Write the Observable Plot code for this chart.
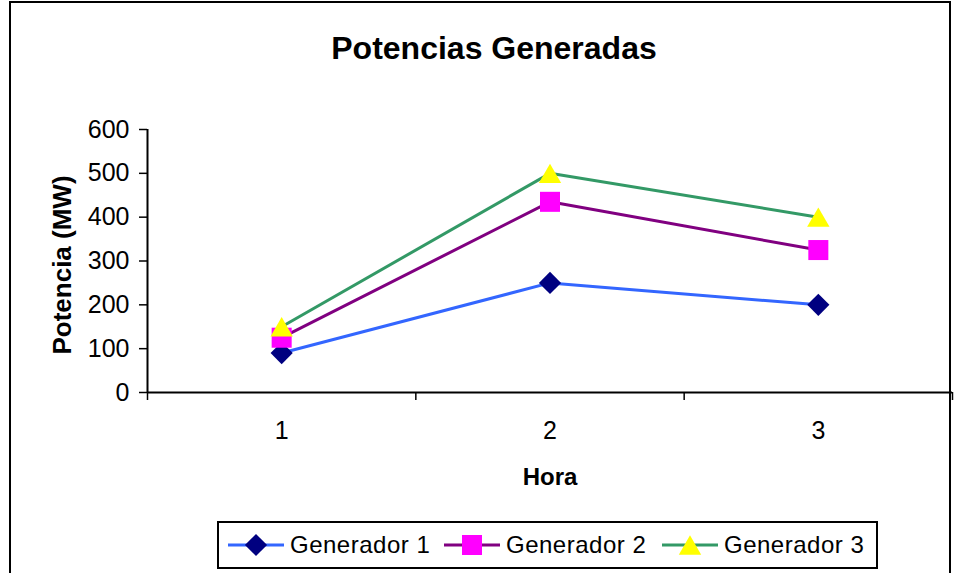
<!DOCTYPE html>
<html>
<head>
<meta charset="utf-8">
<script src="https://cdn.jsdelivr.net/npm/d3@7"></script>
<script src="https://cdn.jsdelivr.net/npm/@observablehq/plot@0.6"></script>
<style>
  html, body { margin: 0; padding: 0; background: #fff; }
  #chart { position: relative; width: 957px; height: 573px; overflow: hidden; font-family: "Liberation Sans", Arial, sans-serif; }
  #frame { position: absolute; left: 9px; top: 1px; width: 942px; height: 620px; border: 2px solid #000; box-sizing: border-box; }
  #plot { position: absolute; left: 0; top: 0; }
  #legend { position: absolute; left: 217px; top: 521px; width: 661px; height: 48px; border: 2px solid #000; box-sizing: border-box; background: #fff; }
  #legend .item { position: absolute; top: 0; height: 44px; display: flex; align-items: center; }
  #legend .item span { font-size: 24px; letter-spacing: 0.5px; color: #000; margin-left: 6px; }
</style>
</head>
<body>
<div id="chart">
  <div id="frame"></div>
  <div id="plot"></div>
  <div id="legend"></div>
</div>
<script>
const titulo = "Potencias Generadas";
const etiquetaY = "Potencia (MW)";
const etiquetaX = "Hora";
const horas = [1, 2, 3];
const generador1 = [90, 250, 200];
const generador2 = [125, 435, 325];
const generador3 = [150, 500, 400];
const seriesNombres = ["Generador 1", "Generador 2", "Generador 3"];
const yTicks = [0, 100, 200, 300, 400, 500, 600];

const lineColors = ["#3366FF", "#800080", "#339966"];
const markerColors = ["#000080", "#FF00FF", "#FFFF00"];
const symbols = ["diamond2", "square", "triangle"];
const radii = [10, 11.3, 8.3];
const dyOffsets = [0, 0, 3.2];

const valores = [generador1, generador2, generador3];
const data = [];
seriesNombres.forEach((s, i) => horas.forEach((h, j) => data.push({serie: s, idx: i, hora: h, valor: valores[i][j]})));

const marks = [];
seriesNombres.forEach((s, i) => {
  const d = data.filter(r => r.idx === i);
  marks.push(Plot.line(d, {x: "hora", y: "valor", stroke: lineColors[i], strokeWidth: 3}));
});
seriesNombres.forEach((s, i) => {
  const d = data.filter(r => r.idx === i);
  marks.push(Plot.dot(d, {x: "hora", y: "valor", symbol: () => symbols[i], fill: markerColors[i], stroke: "none", r: radii[i], dy: dyOffsets[i]}));
});

const plot = Plot.plot({
  width: 957,
  height: 573,
  marginLeft: 147,
  marginRight: 5,
  marginTop: 129,
  marginBottom: 181,
  style: {fontFamily: "'Liberation Sans', Arial, sans-serif", color: "#000", background: "transparent", overflow: "visible"},
  x: {domain: [0.5, 3.5], axis: null},
  y: {domain: [0, 600], axis: null},
  symbol: {type: "identity"},
  marks: [
    Plot.axisY({ticks: yTicks, tickSize: 8, tickPadding: 10, fontSize: 25, label: null, strokeWidth: 1.5, style: {letterSpacing: "1.5px"}}),
    Plot.axisX({ticks: [0.5, 1.5, 2.5, 3.5], tickSize: 8, tickFormat: () => "", label: null, strokeWidth: 1.5}),
    Plot.axisX({ticks: horas, tickSize: 0, tickPadding: 29, fontSize: 25, tickFormat: d3.format("d"), label: null}),
    Plot.ruleX([0.5], {stroke: "#000", strokeWidth: 2}),
    Plot.ruleY([0], {stroke: "#000", strokeWidth: 2}),
    Plot.text([titulo], {frameAnchor: "top", textAnchor: "middle", dx: -56, dy: -93, fontSize: 32, fontWeight: "bold", letterSpacing: 0.2}),
    Plot.text([etiquetaY], {frameAnchor: "left", textAnchor: "middle", dx: -85, dy: 4, rotate: -90, fontSize: 26, fontWeight: "bold"}),
    Plot.text([etiquetaX], {frameAnchor: "bottom", textAnchor: "middle", dy: 92, fontSize: 24, fontWeight: "bold", letterSpacing: 1.5}),
    ...marks
  ]
});
document.getElementById("plot").appendChild(plot);

// legend
const legend = document.getElementById("legend");
const itemLeft = [9, 225, 443];
const symMap = {diamond2: d3.symbolDiamond2, square: d3.symbolSquare, triangle: d3.symbolTriangle};
seriesNombres.forEach((s, i) => {
  const item = document.createElement("div");
  item.className = "item";
  item.style.left = itemLeft[i] + "px";
  const svg = d3.create("svg").attr("width", 56).attr("height", 44);
  svg.append("line").attr("x1", 0).attr("x2", 56).attr("y1", 22).attr("y2", 22)
    .attr("stroke", lineColors[i]).attr("stroke-width", 3);
  svg.append("path")
    .attr("d", d3.symbol(symMap[symbols[i]], Math.PI * radii[i] * radii[i])())
    .attr("transform", `translate(28,${22 + dyOffsets[i]})`)
    .attr("fill", markerColors[i]);
  item.appendChild(svg.node());
  const t = document.createElement("span");
  t.textContent = s;
  item.appendChild(t);
  legend.appendChild(item);
});
</script>
</body>
</html>
